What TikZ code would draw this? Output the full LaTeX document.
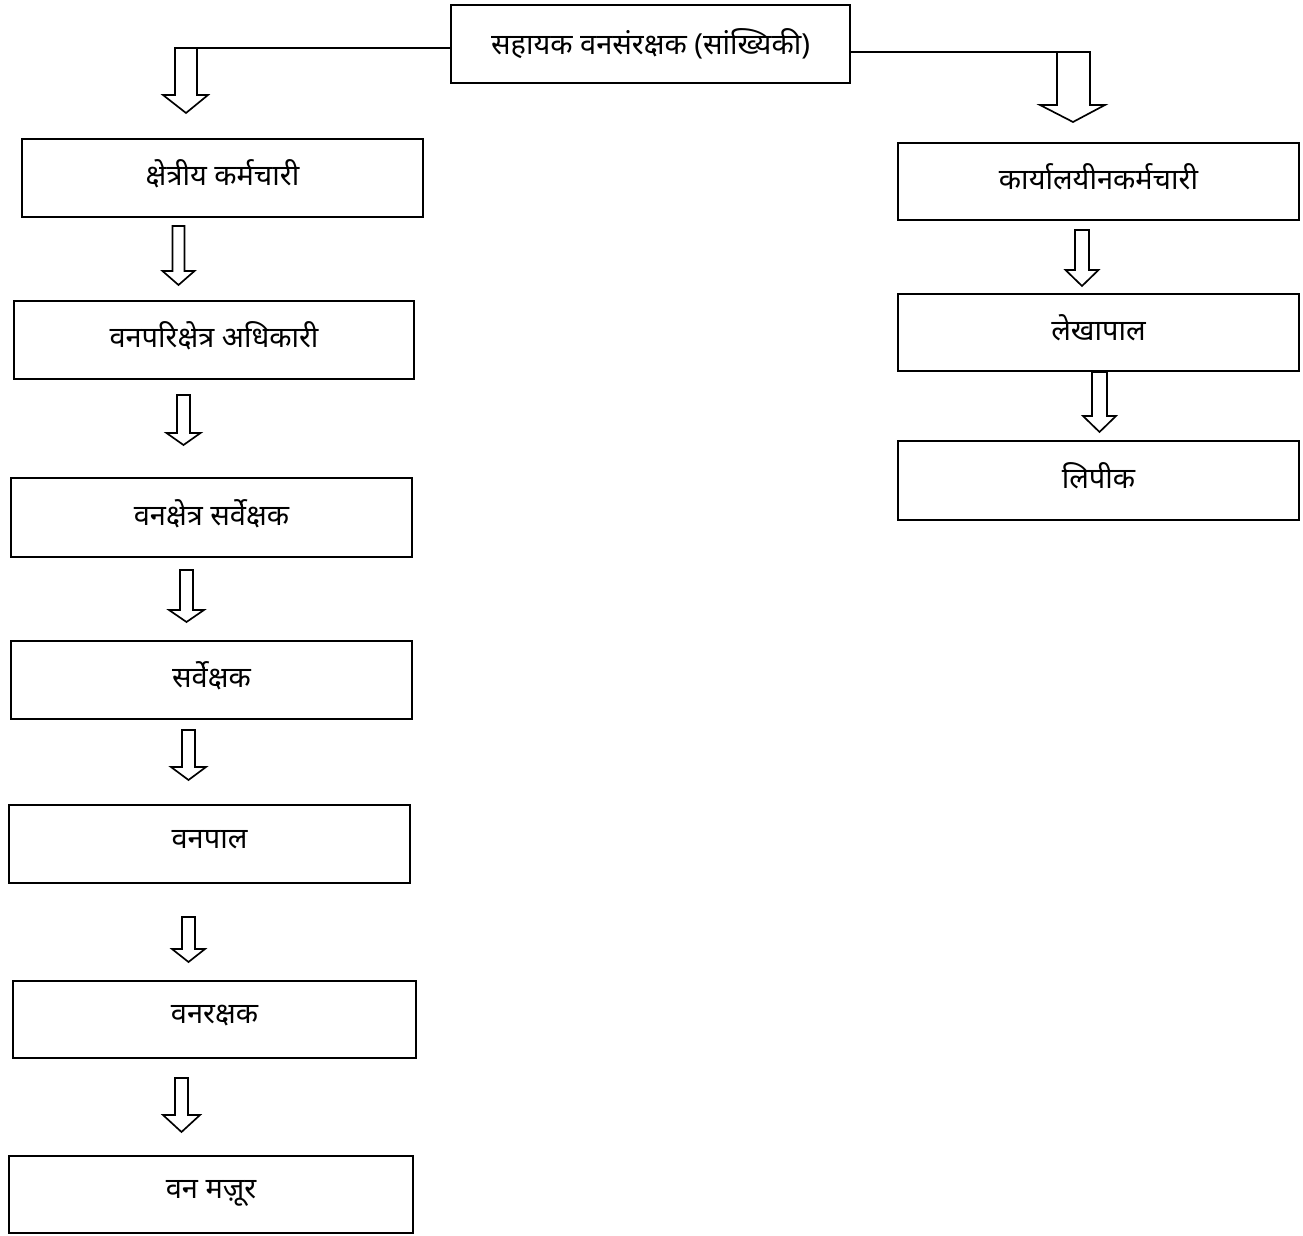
\documentclass[tikz,border=0pt]{standalone}
\usepackage{fontspec}
\newfontfamily\dev[Script=Devanagari]{Noto Sans}
\begin{document}
\begin{tikzpicture}[x=0.02cm,y=-0.02cm,
  box/.style={draw, line width=1.2pt, minimum width=8.02cm, minimum height=1.56cm, inner sep=0pt, font=\dev\fontsize{16.5}{20}\selectfont},
  arr/.style={draw, line width=0.95pt, line join=miter}]
\useasboundingbox[fill=white] (0,0) rectangle (1303,1236);
\newcommand{\lbl}[1]{\raisebox{0.2cm}{#1}}
\newcommand{\darr}[6]{%
  \draw[arr] ({#1-#4/2},#2) -- ({#1-#4/2},{#3-#6}) -- ({#1-#5/2},{#3-#6}) -- (#1,#3)
    -- ({#1+#5/2},{#3-#6}) -- ({#1+#4/2},{#3-#6}) -- ({#1+#4/2},#2) -- cycle;}
% boxes
\node[box, minimum width=7.98cm] (top) at (650.5,44) {\raisebox{0.1cm}{सहायक वनसंरक्षक (सांख्यिकी)}};
\node[box] (k1) at (222.5,178) {\lbl{क्षेत्रीय कर्मचारी}};
\node[box, minimum width=8.0cm] (k2) at (214,340) {\lbl{वनपरिक्षेत्र अधिकारी}};
\node[box, minimum height=1.58cm] (k3) at (211.5,517.5) {\lbl{वनक्षेत्र सर्वेक्षक}};
\node[box] (k4) at (211.5,680) {\lbl{सर्वेक्षक}};
\node[box] (k5) at (209.5,844) {\lbl{वनपाल}};
\node[box, minimum width=8.06cm, minimum height=1.54cm] (k6) at (214.5,1019.5) {\lbl{वनरक्षक}};
\node[box, minimum width=8.08cm, minimum height=1.54cm] (k7) at (211,1194.5) {\lbl{वन मज़ूर}};
\node[box, minimum height=1.54cm] (r1) at (1098.5,181.5) {\lbl{कार्यालयीनकर्मचारी}};
\node[box, minimum height=1.54cm] (r2) at (1098.5,332.5) {\lbl{लेखापाल}};
\node[box, minimum height=1.58cm] (r3) at (1098.5,480.5) {\lbl{लिपीक}};
% top connectors
\draw[arr] ([yshift=-0.08cm]top.west) -- (175,48) -- (175,95) -- (163,95) -- (186,113)
  -- (208,95) -- (197,95) -- (197,48);
\draw[arr] ([yshift=-0.16cm]top.east) -- (1090,52) -- (1090,105) -- (1105,105) -- (1073,122)
  -- (1040,105) -- (1057,105) -- (1057,52);
% small arrows
\darr{178.5}{226}{285}{12}{32}{14}
\darr{183.5}{395}{445}{13}{34}{12}
\darr{186.5}{570}{622}{13}{35}{12}
\darr{188.5}{730}{780}{13}{35}{13}
\darr{188.5}{917}{962}{13}{33}{13}
\darr{181.5}{1078}{1132}{13}{37}{17}
\darr{1082}{230}{286}{14}{33}{16}
\darr{1099.5}{372}{432}{15}{33}{16}
\end{tikzpicture}
\end{document}
